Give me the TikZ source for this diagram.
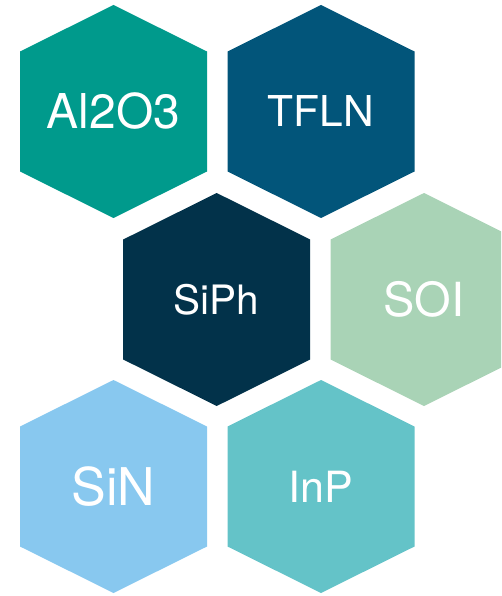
\documentclass[tikz,border=0pt]{standalone}
\usepackage{fontspec}
\setmainfont{TeX Gyre Heros}
\usepackage{tikz}
\usetikzlibrary{positioning}
\definecolor{alocol}{HTML}{009A8C}
\definecolor{tflncol}{HTML}{02557A}
\definecolor{siphcol}{HTML}{02324A}
\definecolor{soicol}{HTML}{A9D3B6}
\definecolor{sincol}{HTML}{88C8EF}
\definecolor{inpcol}{HTML}{64C3C8}
% flattened hexagon, drawn from its centre
\newcommand{\hexcell}{++(0,-106.5) -- ++(93.5,46.5) -- ++(0,120) -- ++(-93.5,46.5) -- ++(-93.5,-46.5) -- ++(0,-120) -- cycle}

\begin{document}
\begin{tikzpicture}[x=1pt,y=-1pt]
                    \tikzstyle{every node}=[text=white, inner sep=0pt]
                    \tikzstyle{material} = [draw=none, font=\fontsize{46}{46}\selectfont]
                    \clip (0,0) rectangle (501,596);

                    % % centres of the cells
                    \coordinate (c1) at (113.5,111.5);
                    \coordinate (c2) at (321,111.5);
                    \coordinate (c3) at (216.7,299.5);
                    \coordinate (c4) at (424,299.5);
                    \coordinate (c5) at (113.5,486.5);
                    \coordinate (c6) at (321,486.5);

                    \fill[alocol] (c1) \hexcell;
                    \fill[tflncol] (c2) \hexcell;
                    \fill[siphcol] (c3) \hexcell;
                    \fill[soicol] (c4) \hexcell;
                    \fill[sincol] (c5) \hexcell;
                    \fill[inpcol] (c6) \hexcell;

                    \node[material, font=\fontsize{48}{48}\selectfont](alo) at (c1) {Al2O3};
                    \node[material, font=\fontsize{42.5}{42.5}\selectfont](tfln) at (c2) {TFLN};
                    \node[material, font=\fontsize{40.5}{40.5}\selectfont](siph) at (c3) {SiPh};
                    \node[material, font=\fontsize{47}{47}\selectfont](soi) at (c4) {SOI};
                    \node[material, font=\fontsize{52}{52}\selectfont](sin) at (c5) {SiN};
                    \node[material, font=\fontsize{43}{43}\selectfont](inp) at (c6) {InP};
            \end{tikzpicture}
\end{document}
